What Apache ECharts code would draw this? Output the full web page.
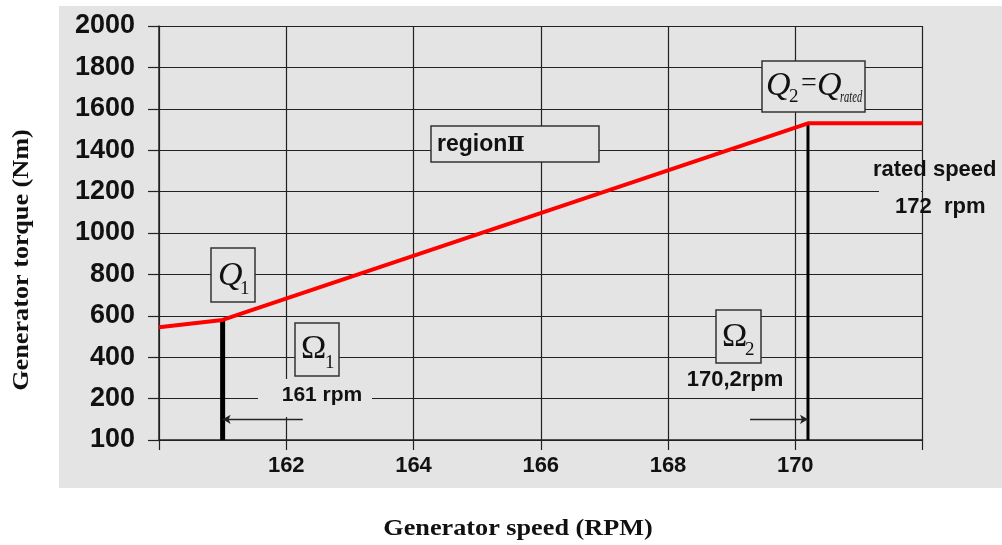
<!DOCTYPE html>
<html>
<head>
<meta charset="utf-8">
<script src="https://cdn.jsdelivr.net/npm/echarts@6/dist/echarts.min.js"></script>
<style>
  html, body { margin: 0; padding: 0; background: #ffffff; }
  #chart { width: 1002px; height: 545px; }
</style>
</head>
<body>
<div id="chart"></div>
<script>
// Generator speed (rpm) and torque (Nm) along the torque–speed control curve
const speedRpm = [160, 161, 170.2, 172];
const torqueNm = [545, 580, 1530, 1530];

// Corner points of region II: (Ω1, Q1) and (Ω2, Q2 = Q rated)
const omega1 = speedRpm[1], q1 = torqueNm[1];
const omega2 = speedRpm[2], q2 = torqueNm[2];

// Arrows from the rpm labels to the Ω lines (rpm where each arrow starts, torque level)
const arrowStartRpm = [162.26, 169.29];
const arrowTorque = 100;

// Tick labels
const xTickLabels = ['162', '164', '166', '168', '170'];
const yTickLabels = ['100', '200', '400', '600', '800', '1000', '1200', '1400', '1600', '1800', '2000'];

const PANEL = '#e4e4e4';
const INK = '#111111';
const GRIDLINE = '#222222';
const SANS = '"Liberation Sans", Arial, sans-serif';
const SERIF = '"Liberation Serif", "Times New Roman", serif';

function box(x, y, w, h) {
  return { type: 'rect', z: 10, silent: true,
    shape: { x: x, y: y, width: w, height: h },
    style: { fill: PANEL, stroke: '#333333', lineWidth: 1.5 } };
}
function cover(x, y, w, h) {
  return { type: 'rect', z: 9, silent: true,
    shape: { x: x, y: y, width: w, height: h },
    style: { fill: PANEL } };
}
function txt(x, y, text, font, align, extra) {
  const el = { type: 'text', z: 11, silent: true, x: x, y: y,
    style: { text: text, font: font, fill: INK,
      align: align || 'left', textAlign: align || 'left',
      verticalAlign: 'middle', textVerticalAlign: 'middle' } };
  return Object.assign(el, extra || {});
}

const chart = echarts.init(document.getElementById('chart'), null, { renderer: 'canvas' });

chart.setOption({
  animation: false,
  backgroundColor: '#ffffff',
  grid: { left: 159, top: 26, width: 763.5, height: 414, containLabel: false },
  xAxis: {
    type: 'value', min: 160, max: 172, interval: 2,
    axisLine: { show: true, onZero: false, lineStyle: { color: GRIDLINE, width: 1.5 } },
    axisTick: { show: true, length: 10, lineStyle: { color: GRIDLINE, width: 1.2 } },
    splitLine: { show: true, lineStyle: { color: GRIDLINE, width: 1.2 } },
    axisLabel: {
      margin: 15, color: INK, fontSize: 22, fontWeight: 'bold', fontFamily: SANS,
      formatter: v => (xTickLabels.indexOf(String(v)) >= 0 ? String(v) : '')
    }
  },
  yAxis: {
    type: 'value', min: 0, max: 2000, interval: 200,
    axisLine: { show: true, lineStyle: { color: GRIDLINE, width: 1.5 } },
    axisTick: { show: true, length: 11, lineStyle: { color: GRIDLINE, width: 1.2 } },
    splitLine: { show: true, lineStyle: { color: GRIDLINE, width: 1.2 } },
    axisLabel: {
      margin: 24, color: INK, fontSize: 27, fontWeight: 'bold', fontFamily: SANS,
      formatter: v => yTickLabels[Math.round(v / 200)] || ''
    }
  },
  series: [
    {
      // Ω1 marker
      type: 'line', silent: true, z: 4, showSymbol: false,
      data: [[omega1, q1], [omega1, 0]],
      lineStyle: { color: '#000000', width: 5 }
    },
    {
      // Ω2 marker
      type: 'line', silent: true, z: 4, showSymbol: false,
      data: [[omega2, q2], [omega2, 0]],
      lineStyle: { color: '#000000', width: 3 }
    },
    {
      // torque–speed curve
      type: 'line', silent: true, z: 6, showSymbol: false,
      data: speedRpm.map((s, i) => [s, torqueNm[i]]),
      lineStyle: { color: '#ff0000', width: 4 }
    },
    {
      // arrows from the rpm labels to the Ω markers
      type: 'line', silent: true, z: 5, data: [],
      markLine: {
        silent: true, animation: false,
        symbol: ['none', 'arrow'], symbolSize: [7, 8],
        label: { show: false },
        lineStyle: { color: GRIDLINE, width: 1.3, type: 'solid' },
        data: [
          [{ coord: [arrowStartRpm[0], arrowTorque] }, { coord: [omega1, arrowTorque] }],
          [{ coord: [arrowStartRpm[1], arrowTorque] }, { coord: [omega2, arrowTorque] }]
        ]
      }
    }
  ],
  graphic: [
    // grey plot panel
    { type: 'rect', z: -10, silent: true, shape: { x: 59, y: 6, width: 943, height: 482 },
      style: { fill: PANEL } },

    // axis titles
    txt(518, 529, 'Generator speed (RPM)', 'bold 23px ' + SERIF, 'center', { scaleX: 1.14 }),
    txt(22, 260, 'Generator torque (Nm)', 'bold 23px ' + SERIF, 'center', { scaleX: 1.14, rotation: Math.PI / 2 }),

    // Q1
    box(211, 248, 44, 54),
    txt(218, 276, 'Q', 'italic 34px ' + SERIF, 'left'),
    txt(240, 289, '1', '19px ' + SERIF, 'left'),

    // Ω1 and its speed
    box(295, 323, 44, 53),
    txt(301, 349, 'Ω', '34px ' + SERIF, 'left'),
    txt(325, 363, '1', '19px ' + SERIF, 'left'),
    cover(258, 379, 114, 38),
    txt(322, 395, '161 rpm', 'bold 21px ' + SANS, 'center'),

    // region II
    box(431, 126, 168, 36),
    txt(437, 145, 'region', 'bold 23px ' + SANS, 'left'),
    txt(507, 146, 'Ⅱ', 'bold 21px "DejaVu Serif", ' + SERIF, 'left'),

    // Q2 = Q rated
    box(762, 61, 103, 51),
    txt(766, 86, 'Q', 'italic 34px ' + SERIF, 'left'),
    txt(789, 97, '2', '19px ' + SERIF, 'left'),
    txt(801, 84, '=', '28px ' + SERIF, 'left'),
    txt(817, 86, 'Q', 'italic 34px ' + SERIF, 'left'),
    txt(840, 98, 'rated', 'italic 17px ' + SERIF, 'left', { scaleX: 0.62 }),

    // Ω2 and its speed
    box(716, 310, 45, 53),
    txt(722, 337, 'Ω', '34px ' + SERIF, 'left'),
    txt(745, 350, '2', '19px ' + SERIF, 'left'),
    txt(735, 380, '170,2rpm', 'bold 22px ' + SANS, 'center'),

    // rated speed note
    cover(879, 188, 42, 8),
    txt(873, 170, 'rated speed', 'bold 22px ' + SANS, 'left'),
    txt(895, 207, '172  rpm', 'bold 22px ' + SANS, 'left')
  ]
});
</script>
</body>
</html>
